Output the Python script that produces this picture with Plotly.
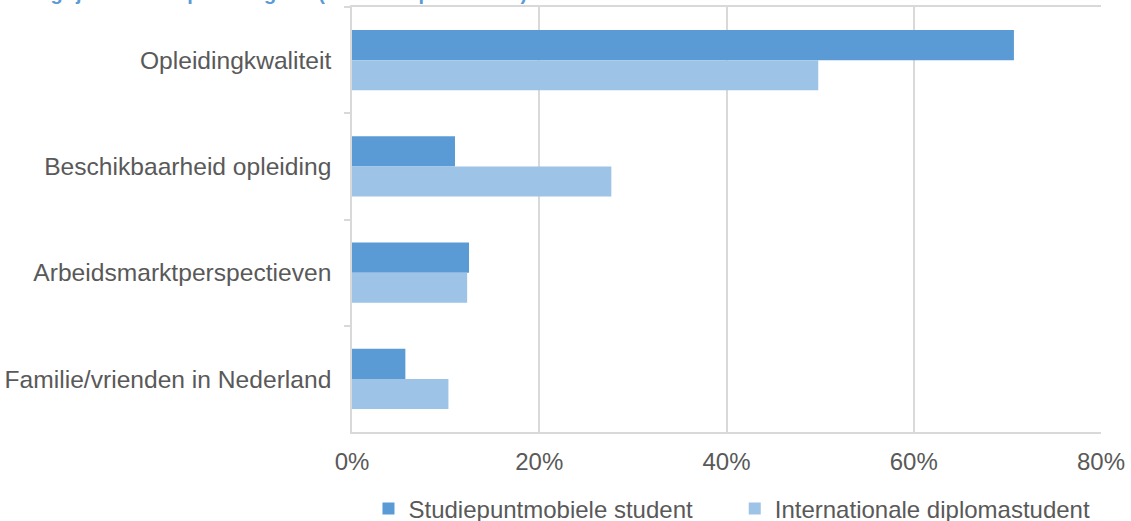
import plotly.graph_objects as go

categories = ["Opleidingkwaliteit", "Beschikbaarheid opleiding",
              "Arbeidsmarktperspectieven", "Familie/vrienden in Nederland"]
series_names = ["Studiepuntmobiele student", "Internationale diplomastudent"]
studiepunt = [0.707, 0.110, 0.125, 0.057]
diploma = [0.498, 0.277, 0.123, 0.103]
tick_vals = [0, 0.2, 0.4, 0.6, 0.8]
tick_text = ["0%", "20%", "40%", "60%", "80%"]
title_text = "Belangrijkste reden per categorie (% van respondenten)"

dark = "#5B9BD5"
light = "#9DC3E6"
grid = "#D9D9D9"
txt = "#595959"
FONT = "Liberation Sans, Arial, sans-serif"

fig = go.Figure()
fig.add_trace(go.Bar(y=categories, x=studiepunt, orientation="h", legend="legend",
                     name=series_names[0], marker=dict(color=dark, line=dict(width=0))))
fig.add_trace(go.Bar(y=categories, x=diploma, orientation="h", legend="legend2",
                     name=series_names[1], marker=dict(color=light, line=dict(width=0))))

leg_common = dict(orientation="h", xanchor="left", y=-0.181, yanchor="middle",
                  font=dict(size=24, color=txt), itemclick=False,
                  bgcolor="rgba(0,0,0,0)")

fig.update_layout(
    width=1131, height=521,
    margin=dict(l=352, r=30, t=7, b=89, autoexpand=False),
    paper_bgcolor="white", plot_bgcolor="white",
    barmode="group", bargap=0.434, bargroupgap=0,
    font=dict(family=FONT, color=txt, size=24),
    showlegend=True,
    legend=dict(x=0.022, **leg_common),
    legend2=dict(x=0.511, **leg_common),
    xaxis=dict(range=[0, 0.8], tickvals=tick_vals, ticktext=tick_text,
               showgrid=True, gridcolor=grid, gridwidth=1.5,
               showline=True, linecolor=grid, linewidth=1.5, mirror=True,
               zeroline=False, ticks="", ticklabelstandoff=7,
               tickfont=dict(size=24, color=txt)),
    yaxis=dict(autorange="reversed", showgrid=False, zeroline=False,
               showline=True, linecolor=grid, linewidth=1.5,
               ticks="outside", tickson="boundaries", ticklen=6,
               tickcolor=grid, tickwidth=1.5, ticklabelstandoff=14,
               tickfont=dict(size=24.6, color=txt)),
    annotations=[dict(text="<b>" + title_text + "</b>", xref="paper", yref="paper",
                      x=-0.478, y=1.0 + 1 / 425, xanchor="left", yanchor="bottom",
                      showarrow=False, font=dict(size=20, color=dark, family=FONT))],
)

fig.write_html("out.html", config={"displayModeBar": False},
               post_script="document.body.style.margin='0';document.body.style.padding='0';")
